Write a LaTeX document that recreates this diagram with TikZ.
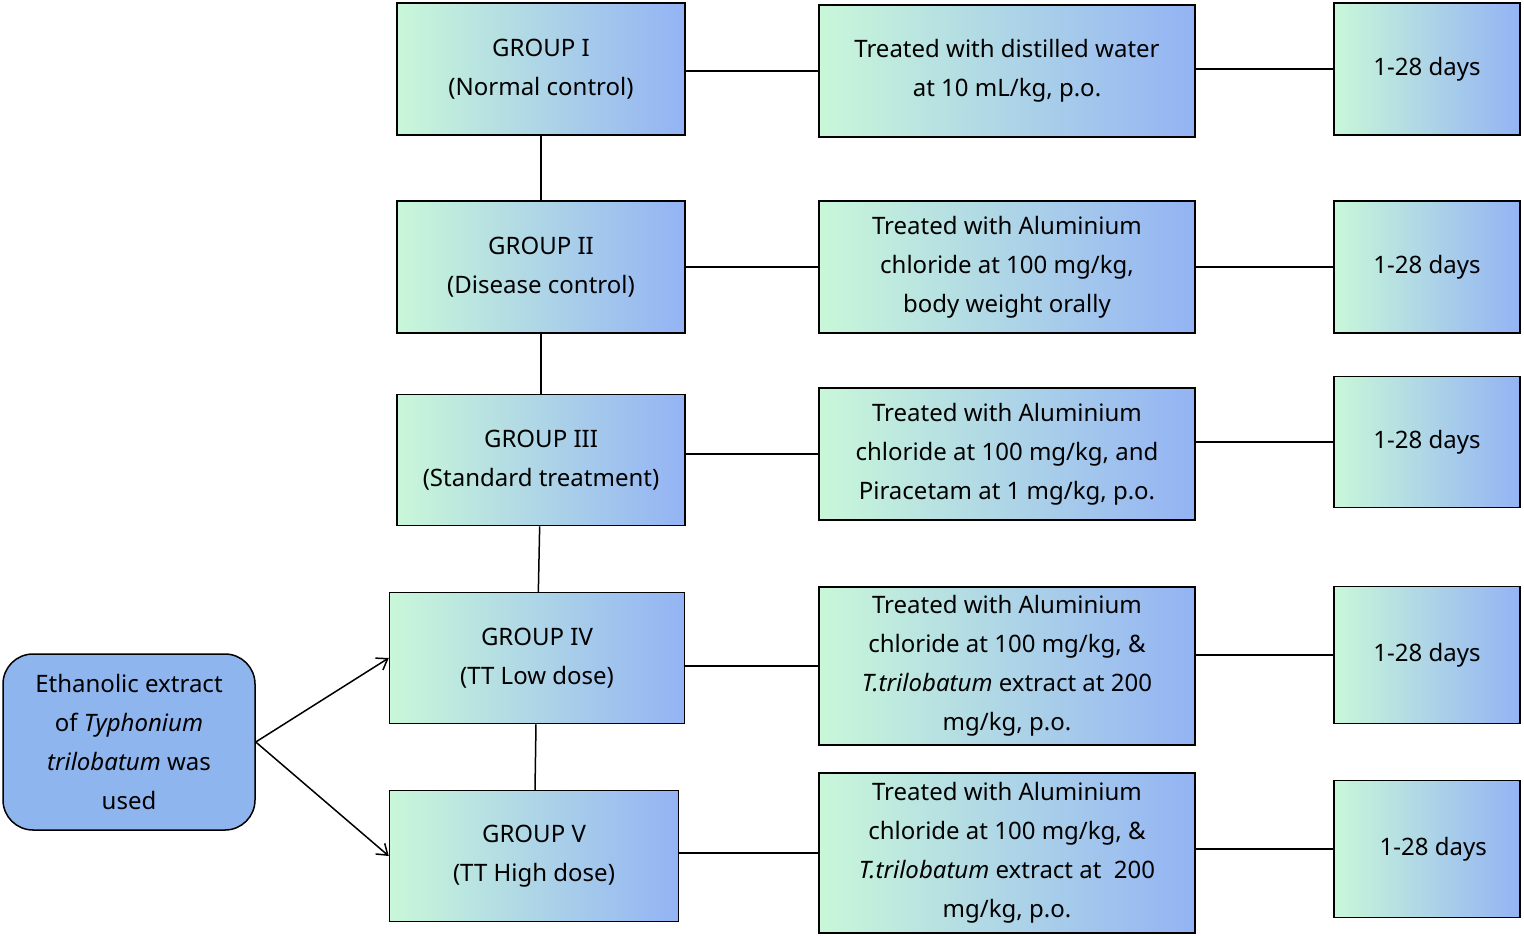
\documentclass[tikz,border=0pt]{standalone}
\usepackage{fontspec}
\setmainfont{Noto Sans}
\usetikzlibrary{positioning,arrows.meta}
\definecolor{gleft}{HTML}{C9F7D9}
\definecolor{gright}{HTML}{93B3F4}
\definecolor{extblue}{HTML}{8FB5EE}
\tikzset{
  grp/.style={draw=black,line width=1.5pt,left color=gleft,right color=gright,
    align=center,font=\fontsize{24}{39}\selectfont\bfseries,inner sep=0pt},
  lnk/.style={line width=1.5pt}
}
\begin{document}
\begin{tikzpicture}[x=1pt,y=-1pt]
\useasboundingbox (0,0) rectangle (1524,935);
% group column
\node[grp,minimum width=288,minimum height=132] (g1) at (541,69) {GROUP I\\(Normal control)};
\node[grp,minimum width=288,minimum height=132] (g2) at (541,267) {GROUP II\\(Disease control)};
\node[grp,minimum width=288,minimum height=131] (g3) at (541,460) {GROUP III\\(Standard treatment)};
\node[grp,minimum width=295,minimum height=131] (g4) at (537,658) {GROUP IV\\(TT Low dose)};
\node[grp,minimum width=289,minimum height=131] (g5) at (534,856) {GROUP V\\(TT High dose)};
% treatments
\node[grp,minimum width=376,minimum height=132] (m1) at (1007,71) {Treated with distilled water\\at 10 mL/kg, p.o.};
\node[grp,minimum width=376,minimum height=132] (m2) at (1007,267) {Treated with Aluminium\\chloride at 100 mg/kg,\\body weight orally};
\node[grp,minimum width=376,minimum height=132] (m3) at (1007,454) {Treated with Aluminium\\chloride at 100 mg/kg, and\\Piracetam at 1 mg/kg, p.o.};
\node[grp,minimum width=376,minimum height=158] (m4) at (1007,666) {Treated with Aluminium\\chloride at 100 mg/kg, \&\\\textit{T.trilobatum} extract at 200\\mg/kg, p.o.};
\node[grp,minimum width=376,minimum height=160] (m5) at (1007,853) {Treated with Aluminium\\chloride at 100 mg/kg, \&\\\textit{T.trilobatum} extract at\ \ 200\\mg/kg, p.o.};
% durations
\node[grp,minimum width=186,minimum height=132] (r1) at (1427,69) {1-28 days};
\node[grp,minimum width=186,minimum height=132] (r2) at (1427,267) {1-28 days};
\node[grp,minimum width=186,minimum height=131] (r3) at (1427,442) {1-28 days};
\node[grp,minimum width=186,minimum height=137] (r4) at (1427,655) {1-28 days};
\node[grp,minimum width=186,minimum height=137] (r5) at (1427,849) {\ \ 1-28 days};
% extract
\node[draw=black,line width=1.5pt,fill=extblue,rounded corners=30pt,minimum width=252,minimum height=176,
  align=center,font=\fontsize{24}{39}\selectfont\bfseries,inner sep=0pt] (ext) at (129,742)
  {Ethanolic extract\\of \textit{Typhonium}\\\textit{trilobatum} was\\used};

\draw[lnk] (g1) -- (g2);
\draw[lnk] (g2) -- (g3);
\draw[lnk] (g3) -- (g4);
\draw[lnk] (g4) -- (g5);
\foreach \i in {1,...,5} {
  \draw[lnk] (g\i.east |- m\i) -- (m\i.west);
  \draw[lnk] (m\i.east |- r\i) -- (r\i.west);
}
\draw[lnk,<->,>={Straight Barb[length=10pt,width=14pt]}] (g4.west) -- (ext.east) -- (g5.west);
\end{tikzpicture}
\end{document}
